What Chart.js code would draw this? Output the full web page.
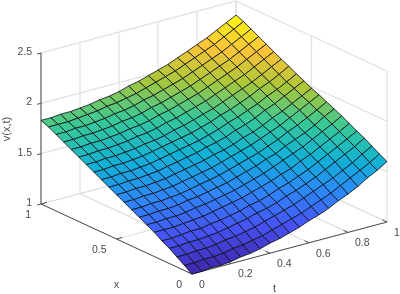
<!DOCTYPE html>
<html><head><meta charset="utf-8">
<style>html,body{margin:0;padding:0;background:#fff}canvas{display:block}</style>
<script src="https://cdn.jsdelivr.net/npm/chart.js@4"></script>
</head><body><canvas id="c" width="400" height="294"></canvas>
<script>
const xValues=[0,.05,.1,.15,.2,.25,.3,.35,.4,.45,.5,.55,.6,.65,.7,.75,.8,.85,.9,.95,1];
const tValues=[0,.05,.1,.15,.2,.25,.3,.35,.4,.45,.5,.55,.6,.65,.7,.75,.8,.85,.9,.95,1];
const xTicks=[0,.5,1];
const tTicks=[0,.2,.4,.6,.8,1];
const vTicks=[1,1.5,2,2.5];
const xTickLabels=['0','0.5','1'];
const tTickLabels=['0','0.2','0.4','0.6','0.8','1'];
const vTickLabels=['1','1.5','2','2.5'];
const vX00=[1.00,1.00,1.01,1.01,1.02,1.04,1.05,1.07,1.10,1.12,1.15,1.18,1.22,1.25,1.29,1.34,1.38,1.43,1.49,1.54,1.60];
const vX01=[1.05,1.05,1.06,1.06,1.07,1.09,1.10,1.12,1.14,1.17,1.20,1.23,1.26,1.30,1.34,1.38,1.43,1.48,1.53,1.58,1.64];
const vX02=[1.10,1.10,1.11,1.11,1.12,1.14,1.15,1.17,1.19,1.22,1.25,1.28,1.31,1.35,1.39,1.43,1.47,1.52,1.57,1.63,1.685];
const vX03=[1.15,1.15,1.16,1.16,1.17,1.18,1.20,1.22,1.24,1.27,1.29,1.32,1.36,1.39,1.43,1.47,1.52,1.57,1.62,1.67,1.73];
const vX04=[1.19,1.19,1.20,1.21,1.21,1.23,1.24,1.26,1.28,1.31,1.33,1.36,1.40,1.43,1.47,1.51,1.56,1.61,1.66,1.71,1.765];
const vX05=[1.24,1.24,1.24,1.25,1.26,1.27,1.29,1.31,1.33,1.35,1.38,1.41,1.44,1.48,1.51,1.56,1.60,1.65,1.70,1.75,1.805];
const vX06=[1.28,1.28,1.29,1.29,1.30,1.32,1.33,1.35,1.37,1.39,1.42,1.45,1.48,1.52,1.56,1.60,1.64,1.69,1.74,1.79,1.845];
const vX07=[1.32,1.32,1.33,1.33,1.34,1.36,1.37,1.39,1.41,1.43,1.46,1.49,1.52,1.56,1.59,1.64,1.68,1.72,1.77,1.83,1.88];
const vX08=[1.36,1.36,1.37,1.37,1.38,1.39,1.41,1.43,1.45,1.47,1.50,1.53,1.56,1.59,1.63,1.67,1.72,1.76,1.81,1.86,1.915];
const vX09=[1.40,1.40,1.41,1.41,1.42,1.43,1.45,1.47,1.49,1.51,1.54,1.57,1.60,1.63,1.67,1.71,1.75,1.80,1.85,1.90,1.95];
const vX10=[1.44,1.44,1.45,1.45,1.46,1.47,1.49,1.51,1.53,1.55,1.58,1.60,1.63,1.67,1.70,1.74,1.79,1.83,1.88,1.93,1.98];
const vX11=[1.48,1.48,1.49,1.49,1.50,1.51,1.53,1.55,1.57,1.59,1.62,1.64,1.67,1.71,1.74,1.78,1.83,1.87,1.92,1.97,2.02];
const vX12=[1.52,1.52,1.53,1.53,1.54,1.55,1.57,1.59,1.61,1.63,1.65,1.68,1.71,1.75,1.78,1.82,1.86,1.91,1.95,2.00,2.055];
const vX13=[1.56,1.56,1.57,1.57,1.58,1.59,1.61,1.63,1.65,1.67,1.69,1.72,1.75,1.79,1.82,1.86,1.90,1.95,1.99,2.04,2.095];
const vX14=[1.60,1.60,1.61,1.61,1.62,1.63,1.65,1.66,1.68,1.71,1.73,1.76,1.79,1.82,1.86,1.90,1.94,1.98,2.03,2.08,2.13];
const vX15=[1.64,1.64,1.65,1.65,1.66,1.67,1.69,1.70,1.72,1.75,1.77,1.80,1.83,1.86,1.90,1.94,1.98,2.02,2.07,2.12,2.17];
const vX16=[1.68,1.68,1.69,1.69,1.70,1.71,1.73,1.74,1.76,1.79,1.81,1.84,1.87,1.90,1.94,1.98,2.02,2.06,2.11,2.16,2.21];
const vX17=[1.72,1.72,1.73,1.73,1.74,1.75,1.77,1.78,1.80,1.83,1.85,1.88,1.91,1.94,1.98,2.02,2.06,2.10,2.15,2.20,2.25];
const vX18=[1.76,1.76,1.77,1.77,1.78,1.79,1.81,1.82,1.84,1.87,1.89,1.92,1.95,1.98,2.02,2.06,2.10,2.14,2.19,2.24,2.29];
const vX19=[1.80,1.80,1.80,1.81,1.82,1.83,1.85,1.86,1.88,1.90,1.93,1.96,1.99,2.02,2.06,2.10,2.14,2.18,2.23,2.28,2.33];
const vX20=[1.83,1.83,1.84,1.84,1.85,1.86,1.88,1.89,1.91,1.94,1.96,1.99,2.02,2.05,2.09,2.13,2.17,2.21,2.26,2.31,2.36];
const surface=[vX00,vX01,vX02,vX03,vX04,vX05,vX06,vX07,vX08,vX09,vX10,vX11,vX12,vX13,vX14,vX15,vX16,vX17,vX18,vX19,vX20];

const parula=[[.2422,.1504,.6603],[.2810,.3228,.9579],[.1786,.5289,.9682],[.0689,.6948,.8394],[.2161,.7843,.5923],[.6720,.7793,.2227],[.9970,.7659,.2199],[.9769,.9839,.0805]];
function colorFor(f){
  f=Math.max(0,Math.min(1,f))*(parula.length-1);
  const i=Math.min(parula.length-2,Math.floor(f)),u=f-i;
  const c=parula[i].map((a,k)=>Math.round(255*(a+(parula[i+1][k]-a)*u)));
  return `rgb(${c[0]},${c[1]},${c[2]})`;
}
// Orthographic view of the 3-D box onto the chart plane
const O={x:192,y:274},EX={x:-151,y:-70},ET={x:195,y:-52},EV=-100.7;
const P=(x,t,v)=>({x:O.x+EX.x*x+ET.x*t,y:O.y+EX.y*x+ET.y*t+EV*(v-1)});
const seg=(pts,color,width,order)=>({data:pts,showLine:true,fill:false,borderColor:color,borderWidth:width,pointRadius:0,order,tension:0});

const datasets=[];
const GRID='#e0e0e0',AXIS='#4d4d4d';
xTicks.forEach(x=>{
  datasets.push(seg([P(x,0,1),P(x,1,1)],GRID,1.2,1000));
  datasets.push(seg([P(x,1,1),P(x,1,2.5)],GRID,1.2,1000));
});
tTicks.forEach(t=>{
  datasets.push(seg([P(0,t,1),P(1,t,1)],GRID,1.2,1000));
  datasets.push(seg([P(1,t,1),P(1,t,2.5)],GRID,1.2,1000));
});
vTicks.forEach(v=>{
  datasets.push(seg([P(1,0,v),P(1,1,v)],GRID,1.2,1000));
  datasets.push(seg([P(1,1,v),P(0,1,v)],GRID,1.2,1000));
});
datasets.push(seg([P(1,0,1),P(1,0,2.5)],AXIS,1,900));
datasets.push(seg([P(1,0,1),P(0,0,1)],AXIS,1,900));
datasets.push(seg([P(0,0,1),P(0,1,1)],AXIS,1,900));
vTicks.forEach(v=>datasets.push(seg([P(1,0,v),P(1,-.02,v)],AXIS,1,900)));
xTicks.forEach(x=>datasets.push(seg([P(x,0,1),P(x,.03,1)],AXIS,1,900)));
tTicks.forEach(t=>datasets.push(seg([P(0,t,1),P(.03,t,1)],AXIS,1,900)));

const flat=surface.flat(),vMin=Math.min(...flat),vMax=Math.max(...flat);
for(let i=surface.length-2;i>=0;i--){
  for(let j=surface[i].length-2;j>=0;j--){
    const mean=(surface[i][j]+surface[i+1][j]+surface[i][j+1]+surface[i+1][j+1])/4;
    const a=P(xValues[i],tValues[j],surface[i][j]),
          b=P(xValues[i+1],tValues[j],surface[i+1][j]),
          c=P(xValues[i+1],tValues[j+1],surface[i+1][j+1]),
          d=P(xValues[i],tValues[j+1],surface[i][j+1]);
    datasets.push({data:[a,b,c,d,a],showLine:true,fill:'shape',backgroundColor:colorFor((mean-vMin)/(vMax-vMin)),
      borderColor:'rgba(10,15,20,0.85)',borderWidth:.95,pointRadius:0,tension:0,order:500+i+j});
  }
}

const FONT='10.5px "Liberation Sans", Arial, sans-serif';
const labelsPlugin={id:'axisText',afterDraw(chart){
  const ctx=chart.ctx,sx=chart.scales.x,sy=chart.scales.y;
  const put=(p,dx,dy,text,align)=>{
    ctx.textAlign=align||'center';ctx.textBaseline='middle';
    ctx.fillText(text,sx.getPixelForValue(p.x)+dx,sy.getPixelForValue(p.y)+dy);
  };
  ctx.save();ctx.font=FONT;ctx.fillStyle='#4a4a4a';
  vTicks.forEach((v,i)=>put(P(1,0,v),-9,-1,vTickLabels[i],'right'));
  xTicks.forEach((x,i)=>put(P(x,0,1),-10,11,xTickLabels[i],'right'));
  tTicks.forEach((t,i)=>put(P(0,t,1),7,11,tTickLabels[i],'left'));
  ctx.font='11px "Liberation Sans", Arial, sans-serif';
  put(P(.5,0,1),0,46,'x');
  put(P(0,.5,1),-15,41,'t');
  ctx.save();
  ctx.translate(sx.getPixelForValue(7),sy.getPixelForValue(129));
  ctx.rotate(-Math.PI/2);ctx.textAlign='center';ctx.textBaseline='middle';
  ctx.fillText('v(x,t)',0,0);
  ctx.restore();
  ctx.restore();
}};

new Chart(document.getElementById('c'),{
  type:'scatter',
  data:{datasets},
  options:{responsive:false,animation:false,
    layout:{padding:0},
    plugins:{legend:{display:false},tooltip:{enabled:false}},
    events:[],
    scales:{
      x:{type:'linear',min:0,max:400,display:false},
      y:{type:'linear',min:0,max:294,reverse:true,display:false}
    }
  },
  plugins:[labelsPlugin]
});
</script></body></html>
